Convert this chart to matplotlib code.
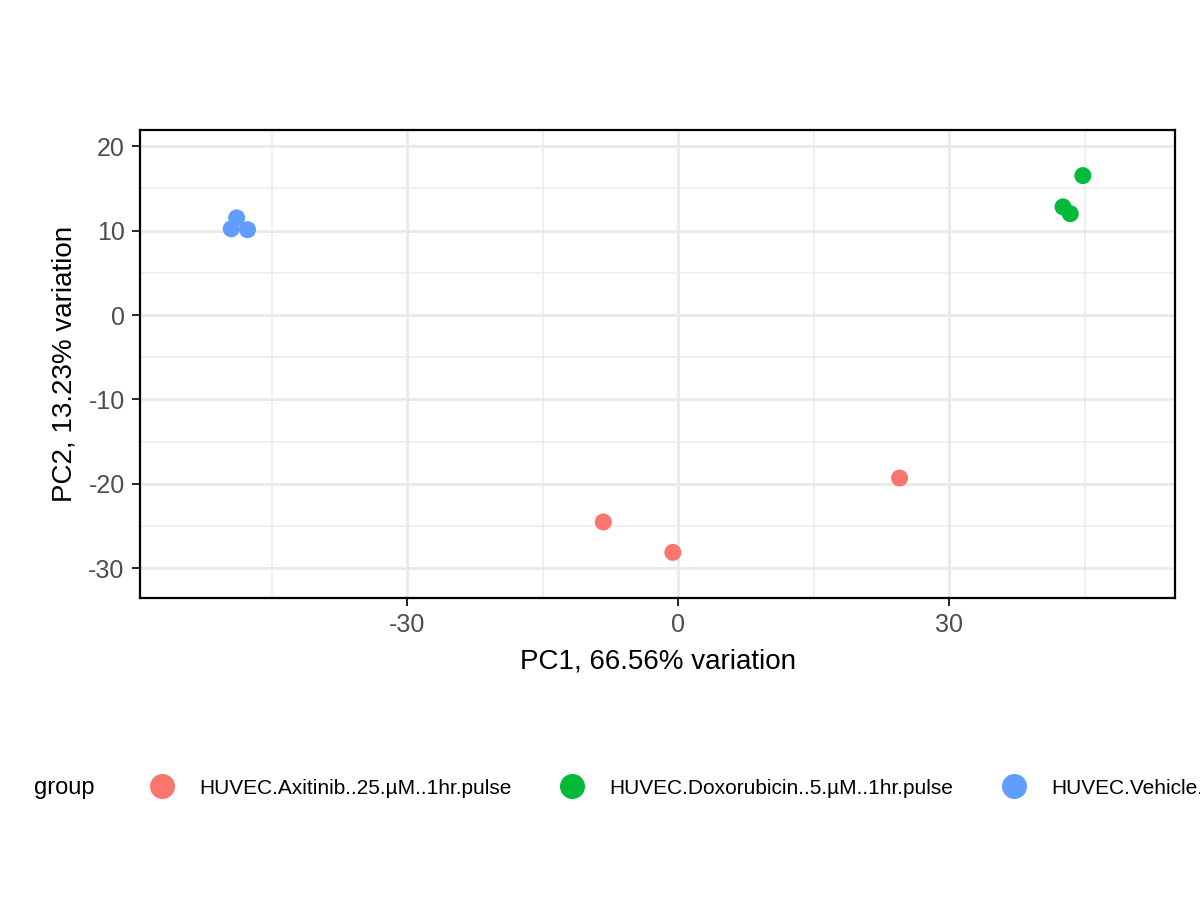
import matplotlib.pyplot as plt
from matplotlib.lines import Line2D

plt.rcParams['font.family'] = ['Liberation Sans', 'DejaVu Sans']
plt.rcParams['axes.unicode_minus'] = False

groups = ["HUVEC.Axitinib..25.µM..1hr.pulse",
          "HUVEC.Doxorubicin..5.µM..1hr.pulse",
          "HUVEC.Vehicle.Control..1hr.pulse"]
colors = ["#F8766D", "#00BA38", "#619CFF"]
pc1 = [[-8.3, -0.6, 24.5], [42.6, 43.4, 44.8], [-48.9, -49.5, -47.7]]
pc2 = [[-24.5, -28.1, -19.3], [12.8, 12.0, 16.5], [11.5, 10.2, 10.1]]

fig = plt.figure(figsize=(12, 9), dpi=100)
ax = fig.add_axes([140/1200, 1-598/900, 1035/1200, 468/900])
for g, c, xs, ys in zip(groups, colors, pc1, pc2):
    ax.scatter(xs, ys, s=150, color=c, edgecolors='none', zorder=3)

ax.set_xlim(-59.6, 55.0)
ax.set_ylim(-33.5, 21.9)
ax.set_xticks([-30, 0, 30])
ax.set_yticks([-30, -20, -10, 0, 10, 20])
ax.set_xticks([-45, -15, 15, 45], minor=True)
ax.set_yticks([-25, -15, -5, 5, 15], minor=True)
ax.grid(which='major', color='#EBEBEB', lw=2.2)
ax.grid(which='minor', color='#EBEBEB', lw=1.1)
ax.set_axisbelow(True)
for s in ax.spines.values():
    s.set_linewidth(1.6)
ax.tick_params(which='major', labelsize=18, labelcolor='#4D4D4D', length=6, width=1.2, pad=5)
ax.tick_params(which='minor', length=0)
ax.set_xlabel("PC1, 66.56% variation", fontsize=20, labelpad=8)
ax.set_ylabel("PC2, 13.23% variation", fontsize=20, labelpad=8)

fig.text(34/1200, 1-788/900, "group", fontsize=17, va='center')
handles = [Line2D([], [], marker='o', ls='', color=c, markersize=17) for c in colors]
fig.legend(handles, groups, loc='center left', bbox_to_anchor=(122/1200, 1-788/900),
           ncol=3, frameon=False, fontsize=15, handletextpad=0.8, columnspacing=1.9)
fig.savefig("out.png")
